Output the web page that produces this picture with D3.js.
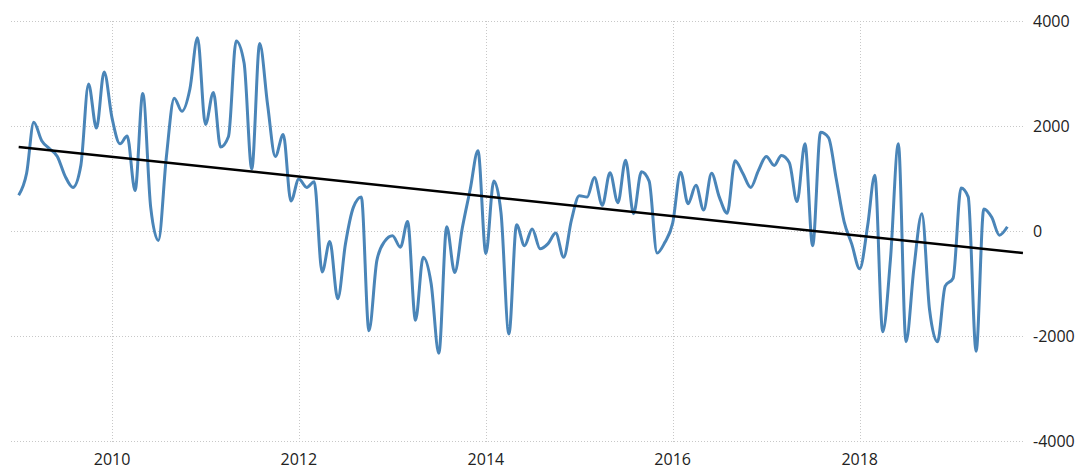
<!DOCTYPE html>
<html>
<head>
<meta charset="utf-8">
<script src="https://cdn.jsdelivr.net/npm/d3@7"></script>
<style>
  body { margin: 0; background: #fff; }
  svg text { font-family: "Open Sans", "DejaVu Sans", sans-serif; font-size: 16px; fill: #222; }
</style>
</head>
<body>
<svg id="chart" width="1083" height="470"></svg>
<script>
// monthly values, Jan 2009 .. Aug 2019
var startYear = 2009;
var values = [
  680, 1100, 2070, 1720, 1570, 1420, 1050, 830, 1250, 2800,
  1960, 3030, 2150, 1660, 1810, 770, 2620, 450, -180, 1400,
  2530, 2280, 2700, 3680, 2030, 2640, 1600, 1800, 3620, 3200,
  1180, 3570, 2400, 1420, 1840, 570, 990, 830, 940, -780,
  -200, -1290, -250, 450, 650, -1900, -560, -200, -90, -310,
  180, -1700, -500, -1000, -2330, 80, -790, 60, 800, 1530,
  -430, 950, 350, -1960, 120, -280, 40, -340, -240, -40,
  -500, 200, 670, 650, 1020, 490, 1110, 540, 1350, 330,
  1130, 950, -420, -220, 150, 1120, 520, 870, 400, 1100,
  650, 340, 1340, 1100, 830, 1150, 1420, 1250, 1440, 1300,
  560, 1660, -280, 1880, 1780, 1000, 180, -250, -720, 100,
  1060, -1920, -550, 1660, -2110, -700, 330, -1500, -2110, -1050,
  -900, 820, 650, -2290, 420, 260, -80, 80
];
// linear trend, month index -> value
var trendMonths = [0, 129];
var trendValues = [1600, -420];

var xTickYears = [2010, 2012, 2014, 2016, 2018];
var yTicks = [-4000, -2000, 0, 2000, 4000];

function monthDate(i) { return new Date(startYear, i, 1); }

var svg = d3.select("#chart");
var plotLeft = 11, plotRight = 1025, plotTop = 21, plotBottom = 441;

var x = d3.scaleTime()
    .domain([new Date(2008, 11, 2), new Date(2019, 9, 9)])
    .range([plotLeft, plotRight]);
var y = d3.scaleLinear()
    .domain([-4000, 4000])
    .range([plotBottom, plotTop]);

// grid
var grid = svg.append("g").attr("class", "grid");
grid.selectAll(".hgrid")
    .data(yTicks)
  .enter().append("line")
    .attr("x1", plotLeft).attr("x2", plotRight)
    .attr("y1", function(d) { return Math.round(y(d)) + 0.5; })
    .attr("y2", function(d) { return Math.round(y(d)) + 0.5; })
    .style("stroke", "#c8c8c8")
    .style("stroke-dasharray", "1,2");
grid.selectAll(".vgrid")
    .data(xTickYears)
  .enter().append("line")
    .attr("x1", function(d) { return Math.round(x(new Date(d, 0, 1))) + 0.5; })
    .attr("x2", function(d) { return Math.round(x(new Date(d, 0, 1))) + 0.5; })
    .attr("y1", plotTop).attr("y2", plotBottom + 3)
    .style("stroke", "#c8c8c8")
    .style("stroke-dasharray", "1,2");

// axes labels
svg.append("g").selectAll("text")
    .data(yTicks)
  .enter().append("text")
    .attr("x", 1033)
    .attr("y", function(d) { return y(d); })
    .attr("dy", "0.35em")
    .text(function(d) { return d; });

svg.append("g").selectAll("text")
    .data(xTickYears)
  .enter().append("text")
    .attr("x", function(d) { return x(new Date(d, 0, 1)); })
    .attr("y", 465)
    .attr("text-anchor", "middle")
    .text(function(d) { return d; });

// series
var line = d3.line()
    .x(function(d, i) { return x(monthDate(i)); })
    .y(function(d) { return y(d); })
    .curve(d3.curveMonotoneX);

svg.append("path")
    .datum(values)
    .attr("d", line)
    .style("fill", "none")
    .style("stroke", "#4a85b8")
    .style("stroke-width", 3)
    .style("stroke-linejoin", "round");

// trend line
var trend = trendMonths.map(function(m, k) { return { m: m, v: trendValues[k] }; });
svg.append("path")
    .datum(trend)
    .attr("d", d3.line()
        .x(function(d) { return x(monthDate(d.m)); })
        .y(function(d) { return y(d.v); }))
    .style("fill", "none")
    .style("stroke", "#000")
    .style("stroke-width", 2.5);
</script>
</body>
</html>
